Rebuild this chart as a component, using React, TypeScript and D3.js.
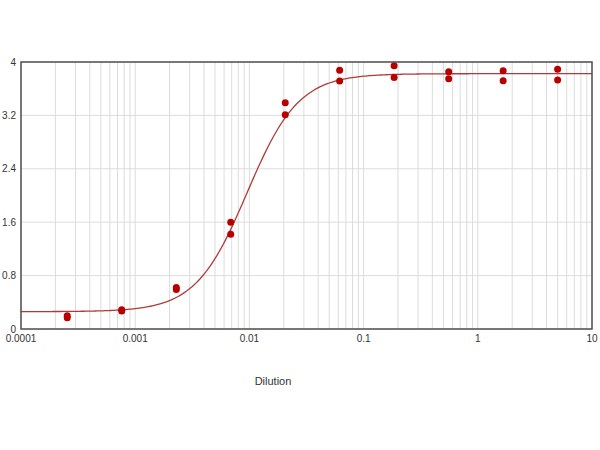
import React from "react";
import * as d3 from "d3";

const dilutions = [0.000254, 0.000762, 0.00229, 0.00686, 0.0206, 0.0617, 0.185, 0.556, 1.667, 5];
const rep1 = [0.2, 0.29, 0.62, 1.6, 3.39, 3.876, 3.945, 3.855, 3.87, 3.89];
const rep2 = [0.17, 0.27, 0.59, 1.42, 3.21, 3.716, 3.766, 3.75, 3.72, 3.73];
const xTickLabels = ["0.0001", "0.001", "0.01", "0.1", "1", "10"];
const xTickValues = [0.0001, 0.001, 0.01, 0.1, 1, 10];
const yTickValues = [0, 0.8, 1.6, 2.4, 3.2, 4];
const yTickLabels = ["0", "0.8", "1.6", "2.4", "3.2", "4"];
// 4PL fit parameters
const fitBottom = 0.26;
const fitTop = 3.825;
const fitLogEC50 = -2.02;
const fitHill = 1.93;

export default function App() {
  const W = 600, H = 450;
  const L = 21, R = 592, T = 62, B = 329;
  const x = d3.scaleLog().domain([0.0001, 10]).range([L, R]);
  const y = d3.scaleLinear().domain([0, 4]).range([B, T]);
  const grid = x.ticks();
  const f = (d: number) =>
    fitBottom + (fitTop - fitBottom) / (1 + Math.pow(10, (fitLogEC50 - Math.log10(d)) * fitHill));
  const curvePts: number[] = d3.range(0, 301).map((i) => Math.pow(10, -4 + (5 * i) / 300));
  const line = d3.line<number>().x((d) => x(d)).y((d) => y(f(d)));
  const pts: { d: number; v: number }[] = [];
  dilutions.forEach((d, i) => {
    pts.push({ d, v: rep1[i] });
    pts.push({ d, v: rep2[i] });
  });
  const font = "'Liberation Sans', Arial, sans-serif";
  return (
    <div style={{ position: "fixed", left: 0, top: 0 }}>
      <svg width={W} height={H} style={{ display: "block", background: "#fff" }}>
        {grid.map((t, i) => (
          <line key={"gx" + i} x1={x(t)} x2={x(t)} y1={T} y2={B} stroke="#dcdcdc" strokeWidth={1} />
        ))}
        {yTickValues.map((t, i) => (
          <line key={"gy" + i} x1={L} x2={R} y1={y(t)} y2={y(t)} stroke="#dcdcdc" strokeWidth={1} />
        ))}
        <path d={line(curvePts) || ""} fill="none" stroke="#b03a3a" strokeWidth={1.3} />
        {pts.map((p, i) => (
          <circle key={"p" + i} cx={x(p.d)} cy={y(p.v)} r={3.5} fill="#b80000" />
        ))}
        <rect x={L} y={T} width={R - L} height={B - T} fill="none" stroke="#505050" strokeWidth={1.5} />
        {yTickValues.map((t, i) => (
          <text key={"yl" + i} x={16} y={y(t)} dy="0.35em" textAnchor="end" fontSize={10} fontFamily={font} fill="#333">
            {yTickLabels[i]}
          </text>
        ))}
        {xTickValues.map((t, i) => (
          <text key={"xl" + i} x={x(t)} y={342} textAnchor="middle" fontSize={10} fontFamily={font} fill="#333">
            {xTickLabels[i]}
          </text>
        ))}
        <text x={273} y={385} textAnchor="middle" fontSize={11} fontFamily={font} fill="#333">
          Dilution
        </text>
      </svg>
    </div>
  );
}
